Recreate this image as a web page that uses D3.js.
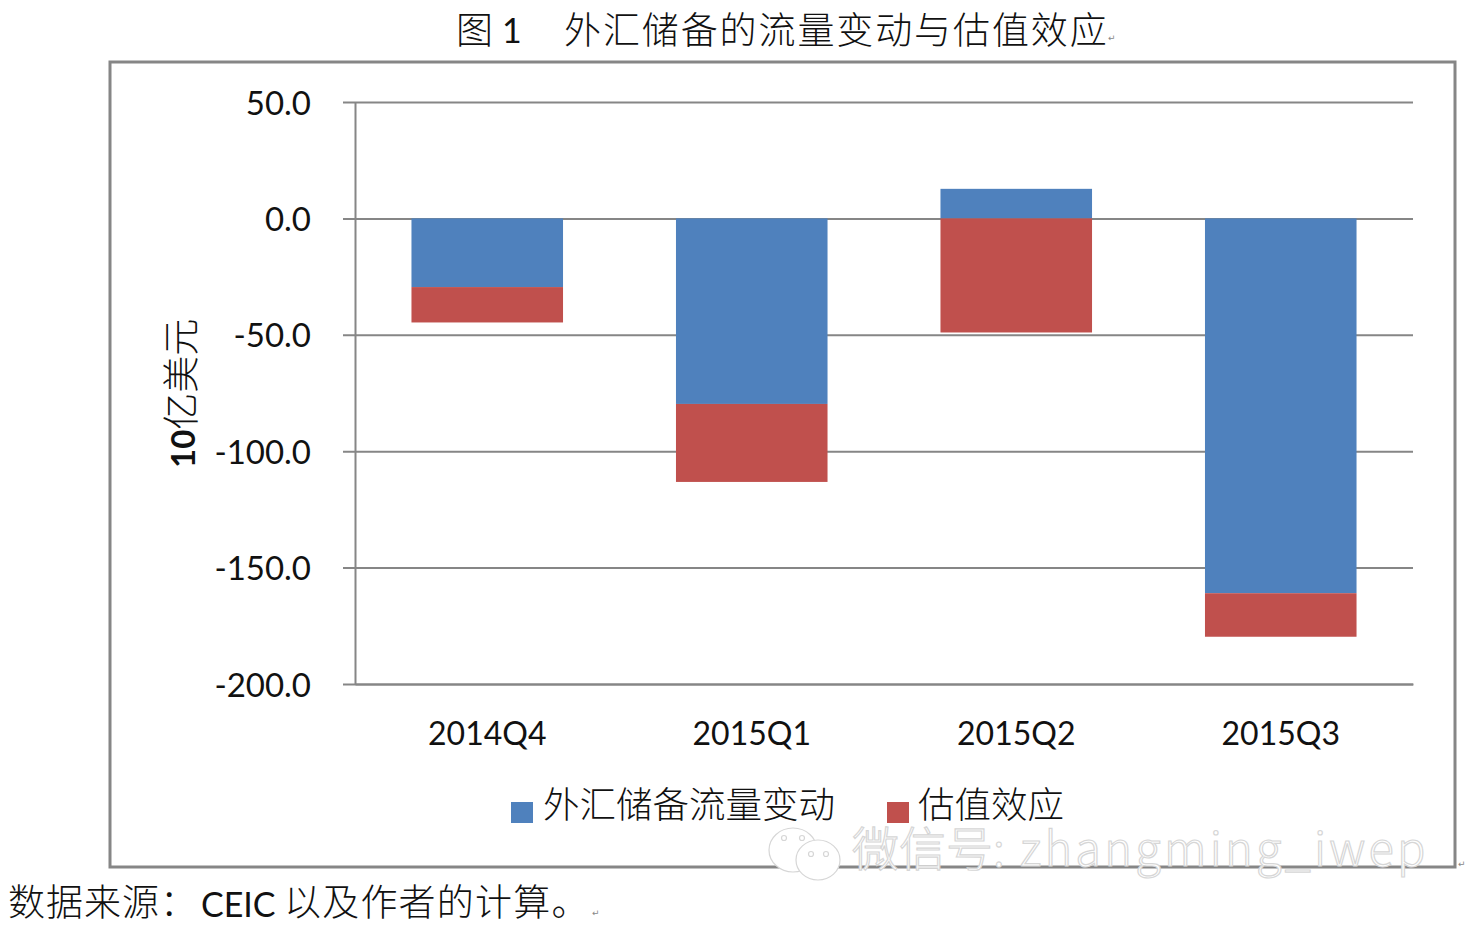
<!DOCTYPE html>
<html>
<head>
<meta charset="utf-8">
<script src="https://cdn.jsdelivr.net/npm/d3@7"></script>
<style>
    html, body { margin: 0; padding: 0; background: #fff; }
    svg { display: block; }
    .cjk { font-family: "Noto Sans CJK SC", sans-serif; font-weight: 300; fill: #111; }
    .num { font-family: Lato, "Open Sans", sans-serif; fill: #111; }
    .mark { font-family: "DejaVu Sans", sans-serif; font-size: 9px; fill: #888; }
</style>
</head>
<body>
<div id="chart"></div>
<script>
// Values in 10亿美元
var quarters = ['2014Q4', '2015Q1', '2015Q2', '2015Q3'];
var flowChange = [-29.5, -79.7, 12.7, -161.0];
var valuation = [-15.2, -33.5, -49.0, -18.7];
var yTicks = [50, 0, -50, -100, -150, -200];
var seriesNames = ['外汇储备流量变动', '估值效应'];
var seriesColors = ['#4f81bd', '#c0504d'];

var o = {
    width: 1478,
    height: 927,
    margin: {top: 102, right: 65, bottom: 243, left: 355}
};

var svg = d3.select('#chart')
    .append('svg')
    .attr('width', o.width)
    .attr('height', o.height);

// Outer frame of the embedded chart
svg.append('rect')
    .attr('x', 110)
    .attr('y', 62)
    .attr('width', 1345)
    .attr('height', 805)
    .attr('fill', '#fff')
    .attr('stroke', '#868686')
    .attr('stroke-width', 3);

var innerW = o.width - o.margin.left - o.margin.right;
var innerH = o.height - o.margin.top - o.margin.bottom;

var g = svg.append('g')
    .attr('transform', 'translate(' + o.margin.left + ',' + o.margin.top + ')');

var x = d3.scaleBand()
    .domain(quarters)
    .range([0, innerW])
    .paddingInner(0.427)
    .paddingOuter(0.2135);

var y = d3.scaleLinear()
    .domain([-200, 50])
    .range([innerH, 0]);

var yAxis = g.append('g')
    .call(d3.axisLeft(y)
        .tickValues(yTicks)
        .tickSizeInner(12)
        .tickSizeOuter(0)
        .tickPadding(32)
        // plain hyphen like the original, d3.format gives a long minus
        .tickFormat(function(d) { return d.toFixed(1); }));

yAxis.select('.domain').attr('stroke', '#868686').attr('stroke-width', 2);
yAxis.selectAll('.tick line')
    .attr('x1', -12)
    .attr('x2', innerW)
    .attr('stroke', '#868686')
    .attr('stroke-width', 2);
yAxis.selectAll('.tick text')
    .attr('class', 'num')
    .attr('y', 1.5)
    .style('font-size', '33px')
    .style('font-family', 'Lato, "Open Sans", sans-serif');

// Stacked bars, blue sits next to the zero line and red carries on downward
var rows = quarters.map(function(q, i) {
    return {quarter: q, flow: flowChange[i], val: valuation[i]};
});

var stacked = d3.stack()
    .keys(['flow', 'val'])
    .offset(d3.stackOffsetDiverging)(rows);

g.selectAll('.series')
    .data(stacked)
    .enter().append('g')
    .attr('class', 'series')
    .attr('fill', function(d, i) { return seriesColors[i]; })
    .selectAll('rect')
    .data(function(d) { return d; })
    .enter().append('rect')
    .attr('x', function(d) { return x(d.data.quarter); })
    .attr('width', x.bandwidth())
    .attr('y', function(d) { return y(Math.max(d[0], d[1])); })
    .attr('height', function(d) { return Math.abs(y(d[0]) - y(d[1])); });

var xAxis = g.append('g')
    .attr('transform', 'translate(0,' + innerH + ')')
    .call(d3.axisBottom(x).tickSize(0).tickPadding(38));

xAxis.select('.domain').attr('stroke', '#868686').attr('stroke-width', 2);
xAxis.selectAll('.tick text')
    .attr('class', 'num')
    .style('font-size', '32px')
    .style('font-family', 'Lato, "Open Sans", sans-serif');

// WeChat watermark over the frame
var wm = svg.append('g').attr('fill', '#fff').attr('stroke', '#d6d6d6').attr('stroke-width', 1.2);
wm.append('ellipse').attr('cx', 793).attr('cy', 850).attr('rx', 24).attr('ry', 22);
wm.append('ellipse').attr('cx', 818).attr('cy', 860).attr('rx', 22).attr('ry', 20);
[[784, 838], [802, 838], [811, 854], [826, 854]].forEach(function(p) {
    wm.append('circle').attr('cx', p[0]).attr('cy', p[1]).attr('r', 2.5);
});
wm.append('text')
    .attr('x', 852)
    .attr('y', 866)
    .style('font-family', '"Noto Sans CJK SC", sans-serif')
    .style('font-weight', 300)
    .style('font-size', '47px')
    .text('微信号:');
wm.append('text')
    .attr('x', 1020)
    .attr('y', 866)
    .style('font-family', '"Noto Sans CJK SC", sans-serif')
    .style('font-weight', 300)
    .style('font-size', '47px')
    .style('letter-spacing', '3.2px')
    .text('zhangming_iwep');

// Legend
var legendPos = [{sw: 511, tx: 543}, {sw: 887, tx: 918}];
seriesNames.forEach(function(name, i) {
    svg.append('rect')
        .attr('x', legendPos[i].sw)
        .attr('y', 802)
        .attr('width', 22)
        .attr('height', 21)
        .attr('fill', seriesColors[i]);
    svg.append('text')
        .attr('class', 'cjk')
        .attr('x', legendPos[i].tx)
        .attr('y', 818)
        .style('font-size', '36.5px')
        .text(name);
});

// Title
svg.append('text').attr('class', 'cjk').attr('x', 456).attr('y', 43.5)
    .style('font-size', '37px').text('图');
svg.append('text').attr('class', 'num').attr('x', 502).attr('y', 43)
    .style('font-size', '34px').text('1');
svg.append('text').attr('class', 'cjk').attr('x', 564).attr('y', 43.5)
    .style('font-size', '37px')
    .style('letter-spacing', '1.9px')
    .text('外汇储备的流量变动与估值效应');

// Axis title
var yLabel = svg.append('text')
    .attr('class', 'cjk')
    .attr('transform', 'translate(195,468) rotate(-90)')
    .style('font-size', '37px');
yLabel.append('tspan')
    .attr('class', 'num')
    .style('font-weight', 700)
    .style('font-size', '33px')
    .text('10');
yLabel.append('tspan').text('亿美元');

// Source note
svg.append('text').attr('class', 'cjk').attr('x', 8).attr('y', 916)
    .style('font-size', '37px').style('letter-spacing', '1px').text('数据来源：');
svg.append('text').attr('class', 'num').attr('x', 201).attr('y', 917)
    .style('font-size', '34px').text('CEIC');
svg.append('text').attr('class', 'cjk').attr('x', 284).attr('y', 916)
    .style('font-size', '37px').style('letter-spacing', '1.2px').text('以及作者的计算。');

// Word paragraph marks left over in the screenshot
[[1108, 41], [1458, 867], [592, 916]].forEach(function(p) {
    svg.append('text').attr('class', 'mark').attr('x', p[0]).attr('y', p[1]).text('↵');
});
</script>
</body>
</html>
